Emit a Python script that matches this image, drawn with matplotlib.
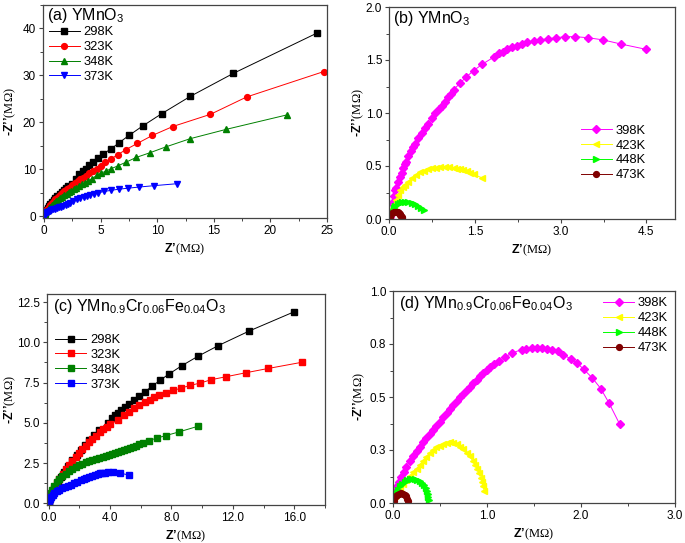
import numpy as np
import matplotlib
matplotlib.use("Agg")
import matplotlib.pyplot as plt
from matplotlib.ticker import AutoMinorLocator, FixedLocator, FixedFormatter

plt.rcParams['font.family'] = ['Liberation Sans', 'DejaVu Sans']
plt.rcParams['mathtext.fontset'] = 'custom'
plt.rcParams['mathtext.rm'] = 'Liberation Serif'
plt.rcParams['mathtext.sf'] = 'Liberation Sans'
plt.rcParams['mathtext.bf'] = 'Liberation Sans:bold'

# ---- (a) YMnO3, low temperature
a_labels = ["298K", "323K", "348K", "373K"]
a_298_x = [0.0, 0.05, 0.12, 0.2, 0.3, 0.42, 0.55, 0.7, 0.85, 1.0, 1.18, 1.36, 1.55, 1.75, 1.95, 2.15,
           2.45, 2.8, 3.12, 3.41, 3.68, 4.0, 4.36, 4.8, 5.24, 5.9, 6.6, 7.5, 8.7, 10.4, 12.9, 16.7, 24.1]
a_298_y = [0.3, 0.6, 0.95, 1.3, 1.7, 2.1, 2.5, 2.95, 3.4, 3.8, 4.25, 4.7, 5.15, 5.6, 6.05, 6.5,
           6.95, 7.95, 8.9, 9.6, 10.1, 10.8, 11.55, 12.4, 13.3, 14.3, 15.6, 17.2, 19.2, 21.85, 25.5, 30.4, 39.0]
a_323_x = [0.0, 0.05, 0.12, 0.2, 0.3, 0.42, 0.55, 0.7, 0.85, 1.0, 1.2, 1.4, 1.6, 1.8, 2.0, 2.2, 2.45,
           2.7, 2.95, 3.2, 3.45, 3.72, 4.0, 4.3, 4.65, 5.0, 5.42, 5.92, 6.51, 7.24, 8.24, 9.57, 11.37, 14.7, 17.9, 24.7]
a_323_y = [0.3, 0.55, 0.9, 1.25, 1.6, 2.0, 2.4, 2.8, 3.2, 3.6, 4.05, 4.5, 4.9, 5.3, 5.7, 6.1, 6.55,
           7.0, 7.45, 7.85, 8.2, 8.65, 9.1, 9.6, 10.1, 10.7, 11.5, 12.2, 13.1, 14.2, 15.5, 17.2, 19.1, 21.7, 25.4, 30.8]
a_348_x = [0.0, 0.05, 0.12, 0.2, 0.3, 0.42, 0.53, 0.7, 0.88, 1.05, 1.22, 1.41, 1.6, 1.8, 2.0, 2.2, 2.4, 2.6,
           2.85, 3.1, 3.35, 3.6, 3.9, 4.25, 4.65, 5.04, 5.45, 5.92, 6.5, 7.24, 8.13, 9.34, 10.75, 12.9, 16.1, 21.5]
a_348_y = [0.25, 0.5, 0.8, 1.1, 1.4, 1.75, 2.0, 2.4, 2.8, 3.15, 3.5, 3.85, 4.15, 4.5, 4.8, 5.1, 5.4, 5.7,
           6.05, 6.4, 6.75, 7.1, 7.5, 8.0, 8.7, 9.15, 9.6, 10.1, 10.7, 11.5, 12.5, 13.5, 14.75, 16.5, 18.5, 21.6]
a_373_x = [0.0, 0.04, 0.1, 0.18, 0.28, 0.38, 0.5, 0.65, 0.8, 0.96, 1.12, 1.3, 1.5, 1.7, 1.9, 2.1, 2.3, 2.55,
           2.9, 3.2, 3.5, 3.8, 4.06, 4.4, 4.8, 5.3, 5.92, 6.6, 7.45, 8.4, 9.75, 11.7]
a_373_y = [0.05, 0.25, 0.45, 0.62, 0.8, 0.95, 1.1, 1.28, 1.42, 1.55, 1.7, 1.85, 2.05, 2.25, 2.45, 2.65, 2.85, 3.15,
           3.55, 3.85, 4.1, 4.35, 4.6, 4.8, 5.0, 5.25, 5.5, 5.74, 5.96, 6.2, 6.5, 6.9]

# ---- (b) YMnO3, high temperature
b_labels = ["398K", "423K", "448K", "473K"]
b_398_x = [0.01, 0.03, 0.05, 0.08, 0.11, 0.13, 0.16, 0.19, 0.22, 0.25, 0.28, 0.3, 0.34, 0.38, 0.42, 0.46,
           0.51, 0.57, 0.63, 0.69, 0.75, 0.81, 0.87, 0.92, 0.98, 1.04, 1.08, 1.13, 1.24, 1.35, 1.48, 1.63,
           1.84, 1.93, 2.0, 2.07, 2.15, 2.24, 2.32, 2.42, 2.53, 2.64, 2.78, 2.92, 3.08, 3.26, 3.48, 3.74, 4.06, 4.5]
b_398_y = [0.02, 0.07, 0.15, 0.22, 0.27, 0.29, 0.35, 0.4, 0.43, 0.48, 0.52, 0.54, 0.59, 0.64, 0.68, 0.71,
           0.76, 0.81, 0.86, 0.9, 0.95, 1.0, 1.04, 1.07, 1.1, 1.15, 1.18, 1.22, 1.28, 1.34, 1.4, 1.46,
           1.53, 1.57, 1.58, 1.6, 1.62, 1.63, 1.65, 1.67, 1.68, 1.69, 1.7, 1.71, 1.72, 1.72, 1.71, 1.69, 1.65, 1.6]
b_423_x = [0.0, 0.02, 0.05, 0.08, 0.12, 0.16, 0.2, 0.24, 0.28, 0.33, 0.4, 0.47, 0.54, 0.61, 0.69, 0.76,
           0.83, 0.9, 0.98, 1.05, 1.13, 1.19, 1.24, 1.3, 1.36, 1.42, 1.48, 1.62]
b_423_y = [0.0, 0.04, 0.09, 0.13, 0.18, 0.23, 0.27, 0.3, 0.32, 0.35, 0.385, 0.415, 0.44, 0.455, 0.47, 0.48,
           0.485, 0.49, 0.49, 0.488, 0.485, 0.475, 0.47, 0.46, 0.45, 0.435, 0.42, 0.39]
b_448_x = [0.0, 0.01, 0.03, 0.05, 0.08, 0.11, 0.15, 0.19, 0.23, 0.28, 0.33, 0.4, 0.45, 0.51, 0.56, 0.62]
b_448_y = [0.0, 0.02, 0.05, 0.07, 0.1, 0.12, 0.145, 0.155, 0.162, 0.165, 0.162, 0.155, 0.14, 0.12, 0.105, 0.085]
b_473_x = [0.0, 0.01, 0.02, 0.04, 0.06, 0.09, 0.11, 0.13, 0.15, 0.17, 0.19, 0.2, 0.21, 0.22, 0.23]
b_473_y = [0.0, 0.015, 0.03, 0.045, 0.055, 0.063, 0.065, 0.065, 0.062, 0.055, 0.047, 0.04, 0.03, 0.02, 0.008]

# ---- (c) YMn0.9Cr0.06Fe0.04O3, low temperature
c_labels = ["298K", "323K", "348K", "373K"]
c_298_x = [0.04, 0.15, 0.26, 0.42, 0.59, 0.8, 1.02, 1.29, 1.56, 1.83, 2.1, 2.38, 2.65, 2.98, 3.3, 3.84,
           4.1, 4.3, 4.51, 4.73, 4.97, 5.25, 5.55, 5.88, 6.27, 6.72, 7.24, 7.87, 8.68, 9.72, 11.06, 13.06, 16.0]
c_298_y = [0.2, 0.48, 0.73, 1.04, 1.35, 1.66, 1.97, 2.34, 2.7, 3.01, 3.32, 3.63, 3.94, 4.25, 4.56, 5.02,
           5.29, 5.46, 5.62, 5.79, 5.98, 6.18, 6.41, 6.66, 6.93, 7.26, 7.63, 8.05, 8.55, 9.13, 9.8, 10.7, 11.9]
c_323_x = [0.04, 0.12, 0.22, 0.36, 0.52, 0.7, 0.91, 1.12, 1.34, 1.56, 1.78, 2.0, 2.21, 2.43, 2.65, 2.86,
           3.08, 3.32, 3.56, 3.8, 4.03, 4.53, 4.92, 5.25, 5.57, 5.9, 6.25, 6.59, 6.88, 7.2, 7.64, 8.13,
           8.63, 9.2, 9.87, 10.59, 11.54, 12.84, 14.32, 16.49]
c_323_y = [0.1, 0.36, 0.62, 0.93, 1.24, 1.54, 1.83, 2.11, 2.39, 2.65, 2.9, 3.14, 3.38, 3.59, 3.8, 4.0,
           4.21, 4.41, 4.61, 4.77, 4.92, 5.19, 5.46, 5.7, 5.91, 6.12, 6.29, 6.45, 6.6, 6.72, 6.87, 7.01,
           7.16, 7.32, 7.47, 7.68, 7.86, 8.11, 8.38, 8.76]
c_348_x = [0.02, 0.08, 0.15, 0.25, 0.37, 0.52, 0.69, 0.9, 1.13, 1.35, 1.56, 1.78, 2.0, 2.2, 2.43, 2.65,
           2.86, 3.08, 3.3, 3.52, 3.73, 3.95, 4.16, 4.35, 4.53, 4.72, 4.92, 5.1, 5.29, 5.48, 5.68,
           5.9, 6.12, 6.55, 7.03, 7.64, 8.5, 9.74]
c_348_y = [0.17, 0.4, 0.62, 0.85, 1.08, 1.3, 1.49, 1.68, 1.85, 2.0, 2.14, 2.26, 2.37, 2.46, 2.55, 2.64,
           2.72, 2.78, 2.84, 2.9, 2.97, 3.03, 3.09, 3.14, 3.2, 3.26, 3.32, 3.38, 3.44, 3.52, 3.59,
           3.66, 3.73, 3.9, 4.05, 4.21, 4.44, 4.79]
c_373_x = [0.0, 0.03, 0.09, 0.17, 0.26, 0.38, 0.52, 0.69, 0.87, 1.05, 1.24, 1.45, 1.67, 1.88, 2.1, 2.28,
           2.47, 2.66, 2.86, 3.03, 3.19, 3.35, 3.51, 3.67, 3.84, 4.21, 4.64, 5.21]
c_373_y = [0.04, 0.15, 0.25, 0.38, 0.52, 0.63, 0.75, 0.84, 0.93, 1.0, 1.08, 1.16, 1.24, 1.33, 1.43, 1.5,
           1.58, 1.65, 1.72, 1.78, 1.83, 1.86, 1.89, 1.91, 1.93, 1.93, 1.89, 1.76]

# ---- (d) YMn0.9Cr0.06Fe0.04O3, high temperature
d_labels = ["398K", "423K", "448K", "473K"]
d_398_x = [0.011, 0.027, 0.043, 0.066, 0.089, 0.115, 0.142, 0.178, 0.214, 0.25, 0.285, 0.32, 0.356, 0.39,
           0.427, 0.46, 0.498, 0.535, 0.57, 0.605, 0.64, 0.676, 0.712, 0.748, 0.783, 0.82, 0.854, 0.89,
           0.925, 0.96, 1.0, 1.035, 1.07, 1.13, 1.19, 1.27, 1.37, 1.42, 1.48, 1.53, 1.58, 1.64, 1.69,
           1.75, 1.81, 1.89, 1.96, 2.03, 2.12, 2.21, 2.3, 2.41]
d_398_y = [0.031, 0.055, 0.078, 0.1, 0.125, 0.148, 0.172, 0.198, 0.223, 0.245, 0.266, 0.286, 0.306, 0.326,
           0.345, 0.365, 0.384, 0.404, 0.423, 0.443, 0.462, 0.48, 0.498, 0.516, 0.533, 0.549, 0.564, 0.582,
           0.599, 0.613, 0.627, 0.641, 0.654, 0.67, 0.688, 0.708, 0.724, 0.727, 0.73, 0.732, 0.73, 0.727,
           0.724, 0.716, 0.7, 0.68, 0.66, 0.63, 0.59, 0.54, 0.47, 0.373]
d_423_x = [0.018, 0.04, 0.071, 0.105, 0.142, 0.178, 0.214, 0.25, 0.285, 0.32, 0.356, 0.39, 0.427, 0.46,
           0.498, 0.535, 0.57, 0.605, 0.64, 0.676, 0.712, 0.748, 0.783, 0.815, 0.847, 0.872, 0.897,
           0.915, 0.932, 0.946, 0.96, 0.968]
d_423_y = [0.031, 0.05, 0.07, 0.09, 0.11, 0.127, 0.144, 0.162, 0.18, 0.2, 0.219, 0.236, 0.251, 0.262,
           0.271, 0.279, 0.285, 0.286, 0.282, 0.276, 0.266, 0.253, 0.238, 0.22, 0.2, 0.18, 0.16,
           0.14, 0.118, 0.1, 0.082, 0.058]
d_448_x = [0.006, 0.018, 0.035, 0.053, 0.075, 0.1, 0.125, 0.153, 0.18, 0.206, 0.233, 0.26, 0.285,
           0.31, 0.33, 0.349, 0.362, 0.37, 0.376, 0.38]
d_448_y = [0.01, 0.031, 0.048, 0.063, 0.078, 0.089, 0.1, 0.108, 0.112, 0.114, 0.113, 0.11, 0.103,
           0.094, 0.083, 0.07, 0.056, 0.044, 0.03, 0.014]
d_473_x = [0.007, 0.015, 0.028, 0.045, 0.064, 0.085, 0.107, 0.125, 0.142, 0.152, 0.16]
d_473_y = [0.008, 0.02, 0.031, 0.04, 0.044, 0.046, 0.044, 0.038, 0.031, 0.02, 0.008]

cool_colors = ["black", "red", "green", "blue"]
hot_colors = ["#ff00ff", "#ffff00", "#00ff00", "#800000"]

fig = plt.figure(figsize=(6.85, 5.43), dpi=100)


def add_ax(l, t, r, b):
    return fig.add_axes([l / 685, 1 - b / 543, (r - l) / 685, (b - t) / 543])


def style(ax, ylab_x):
    for s in ax.spines.values():
        s.set_color("#444444")
        s.set_linewidth(0.9)
    ax.tick_params(which="both", direction="out", top=False, right=False, labelsize=8.5, colors="#444444",
                   labelcolor="black")
    ax.tick_params(which="major", length=3, width=0.8, pad=2)
    ax.tick_params(which="minor", length=2, width=0.7)
    ax.xaxis.set_minor_locator(AutoMinorLocator(2))
    ax.yaxis.set_minor_locator(AutoMinorLocator(2))
    ax.set_xlabel("Z\u2019$\\mathrm{(M\\Omega)}$", fontsize=9, fontweight="bold", labelpad=3)
    ax.set_ylabel("-Z\u2019\u2019$\\mathrm{(M\\Omega)}$", fontsize=9, fontweight="bold")
    ax.yaxis.set_label_coords(ylab_x, 0.5)


def leg(ax, x, y):
    ax.legend(loc="upper left", bbox_to_anchor=(x, y), frameon=False, fontsize=9.3, handlelength=2.4,
              handletextpad=0.3, labelspacing=0.22, borderpad=0, borderaxespad=0)


# (a)
ax = add_ax(43, 5, 327, 218)
style(ax, -0.088)
mk = ["s", "o", "^", "v"]
for xs, ys, c, m, lab in zip([a_298_x, a_323_x, a_348_x, a_373_x], [a_298_y, a_323_y, a_348_y, a_373_y],
                             cool_colors, mk, a_labels):
    ax.plot(xs, ys, color=c, marker=m, ms=4.2, lw=0.7, label=lab)
ax.set_xlim(-0.1, 25)
ax.set_ylim(-0.4, 45)
ax.set_xticks([0, 5, 10, 15, 20, 25])
ax.set_yticks([0, 10, 20, 30, 40])
ax.text(0.015, 0.995, "(a) YMnO$_\\mathsf{3}$", transform=ax.transAxes, fontsize=11.5, va="top")
leg(ax, 0.02, 0.9)

# (b)
ax = add_ax(389, 7, 675, 219)
style(ax, -0.082)
mk = ["D", "<", ">", "o"]
for xs, ys, c, m, lab in zip([b_398_x, b_423_x, b_448_x, b_473_x], [b_398_y, b_423_y, b_448_y, b_473_y],
                             hot_colors, mk, b_labels):
    ax.plot(xs, ys, color=c, marker=m, ms=4.2, lw=0.7, label=lab)
ax.set_xlim(0, 5)
ax.set_ylim(0, 2)
ax.set_xticks([0, 1.5, 3.0, 4.5])
ax.set_yticks([0, 0.5, 1.0, 1.5, 2.0])
ax.xaxis.set_major_formatter("{x:.1f}")
ax.yaxis.set_major_formatter("{x:.1f}")
ax.text(0.015, 0.99, "(b) YMnO$_\\mathsf{3}$", transform=ax.transAxes, fontsize=11.5, va="top")
leg(ax, 0.67, 0.445)

# (c)
ax = add_ax(47, 294, 325, 505)
style(ax, -0.104)
for xs, ys, c, lab in zip([c_298_x, c_323_x, c_348_x, c_373_x], [c_298_y, c_323_y, c_348_y, c_373_y],
                          cool_colors, c_labels):
    ax.plot(xs, ys, color=c, marker="s", ms=3.8, lw=0.7, label=lab)
ax.set_xlim(-0.1, 18)
ax.set_ylim(-0.1, 13)
ax.set_xticks([0, 4, 8, 12, 16])
ax.set_yticks([0, 2.5, 5.0, 7.5, 10.0, 12.5])
ax.xaxis.set_major_formatter("{x:.1f}")
ax.yaxis.set_major_formatter("{x:.1f}")
ax.text(0.02, 0.985, "(c) YMn$_\\mathsf{0.9}$Cr$_\\mathsf{0.06}$Fe$_\\mathsf{0.04}$O$_\\mathsf{3}$",
        transform=ax.transAxes, fontsize=11.5, va="top")
leg(ax, 0.03, 0.81)

# (d)
ax = add_ax(393, 291, 675, 503)
style(ax, -0.092)
mk = ["D", "<", ">", "o"]
for xs, ys, c, m, lab in zip([d_398_x, d_423_x, d_448_x, d_473_x], [d_398_y, d_423_y, d_448_y, d_473_y],
                             hot_colors, mk, d_labels):
    ax.plot(xs, ys, color=c, marker=m, ms=4.2, lw=0.7, label=lab)
ax.set_xlim(0, 3)
ax.set_ylim(0, 1)
ax.set_xticks([0, 1, 2, 3])
ax.xaxis.set_major_formatter("{x:.1f}")
ax.yaxis.set_major_locator(FixedLocator([0, 0.25, 0.5, 0.75, 1.0]))
ax.yaxis.set_major_formatter(FixedFormatter(["0.0", "0.3", "0.5", "0.8", "1.0"]))
ax.text(0.02, 0.985, "(d) YMn$_\\mathsf{0.9}$Cr$_\\mathsf{0.06}$Fe$_\\mathsf{0.04}$O$_\\mathsf{3}$",
        transform=ax.transAxes, fontsize=11.5, va="top")
leg(ax, 0.745, 0.97)

fig.savefig("out.png", dpi=100)
